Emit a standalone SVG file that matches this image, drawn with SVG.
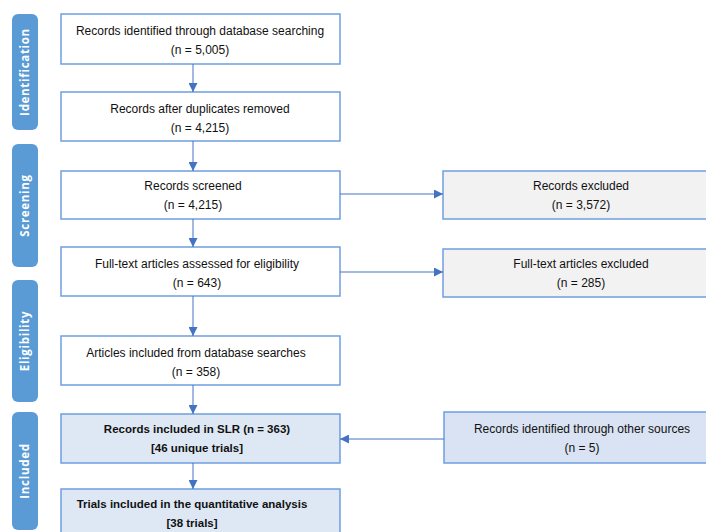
<svg xmlns="http://www.w3.org/2000/svg" width="706" height="532" viewBox="0 0 706 532">
<defs>
<marker id="ah" viewBox="0 0 10 10" refX="10" refY="5" markerWidth="9" markerHeight="9" markerUnits="userSpaceOnUse" orient="auto">
<path d="M0,0 L10,5 L0,10 z" fill="#4472c4"/>
</marker>
<style>
.box{fill:#ffffff;stroke:#6d9ee0;stroke-width:1.5}
.exc{fill:#f2f2f2;stroke:#6d9ee0;stroke-width:1.5}
.inc{fill:#dee8f5;stroke:#6d9ee0;stroke-width:1.5}
.oth{fill:#d9e3f3;stroke:#6d9ee0;stroke-width:1.5}
.side{fill:#5b9bd5}
.t{font-family:"Liberation Sans",Arial,sans-serif;font-size:12px;fill:#111111;text-anchor:middle}
.b{font-weight:bold;font-size:11.5px}
.st{font-family:"Open Sans","Liberation Sans",sans-serif;font-size:11.5px;font-weight:bold;fill:#ffffff;text-anchor:middle;letter-spacing:0.7px}
.c{stroke:#4472c4;stroke-width:1;fill:none;marker-end:url(#ah)}
</style>
</defs>
<g id="side-identification"><rect class="side" x="12" y="14" width="26" height="116" rx="6"/><text class="st" transform="translate(29,72) rotate(-90)">Identification</text></g>
<g id="side-screening"><rect class="side" x="12" y="144" width="26" height="123" rx="6"/><text class="st" transform="translate(29,205.5) rotate(-90)">Screening</text></g>
<g id="side-eligibility"><rect class="side" x="12" y="280" width="26" height="122" rx="6"/><text class="st" transform="translate(29,341) rotate(-90)">Eligibility</text></g>
<g id="side-included"><rect class="side" x="12" y="412" width="26" height="118" rx="6"/><text class="st" transform="translate(29,471) rotate(-90)">Included</text></g>

<g id="n1"><rect class="box" x="61" y="14" width="279" height="50"/><text class="t" x="200" y="35">Records identified through database searching</text><text class="t" x="200" y="54">(n = 5,005)</text></g>
<g id="n2"><rect class="box" x="61" y="92" width="279" height="49"/><text class="t" x="200" y="113">Records after duplicates removed</text><text class="t" x="200" y="132">(n = 4,215)</text></g>
<g id="n3"><rect class="box" x="61" y="171" width="279" height="48"/><text class="t" x="193" y="190">Records screened</text><text class="t" x="193" y="209">(n = 4,215)</text></g>
<g id="n4"><rect class="box" x="61" y="247" width="279" height="49"/><text class="t" x="197" y="268">Full-text articles assessed for eligibility</text><text class="t" x="197" y="287">(n = 643)</text></g>
<g id="n5"><rect class="box" x="61" y="336" width="279" height="49"/><text class="t" x="196" y="357">Articles included from database searches</text><text class="t" x="196" y="376">(n = 358)</text></g>
<g id="n6"><rect class="inc" x="61" y="414" width="279" height="49"/><text class="t b" x="197" y="433">Records included in SLR (n = 363)</text><text class="t b" x="197" y="452">[46 unique trials]</text></g>
<g id="n7"><rect class="inc" x="61" y="489" width="279" height="60"/><text class="t b" x="192" y="508">Trials included in the quantitative analysis</text><text class="t b" x="192" y="527">[38 trials]</text></g>
<g id="e1"><rect class="exc" x="443" y="171" width="280" height="48"/><text class="t" x="581" y="190">Records excluded</text><text class="t" x="581" y="209">(n = 3,572)</text></g>
<g id="e2"><rect class="exc" x="443" y="249" width="280" height="48"/><text class="t" x="581" y="268">Full-text articles excluded</text><text class="t" x="581" y="287">(n = 285)</text></g>
<g id="o1"><rect class="oth" x="444" y="412" width="280" height="51"/><text class="t" x="582" y="433">Records identified through other sources</text><text class="t" x="582" y="452">(n = 5)</text></g>

<g id="connectors">
<line class="c" x1="193" y1="64" x2="193" y2="92"/>
<line class="c" x1="193" y1="141" x2="193" y2="171"/>
<line class="c" x1="193" y1="219" x2="193" y2="247"/>
<line class="c" x1="193" y1="296" x2="193" y2="336"/>
<line class="c" x1="193" y1="385" x2="193" y2="414"/>
<line class="c" x1="193" y1="463" x2="193" y2="489"/>
<line class="c" x1="340" y1="194" x2="443" y2="194"/>
<line class="c" x1="340" y1="272" x2="443" y2="272"/>
<line class="c" x1="444" y1="439" x2="340" y2="439"/>
</g>
</svg>
